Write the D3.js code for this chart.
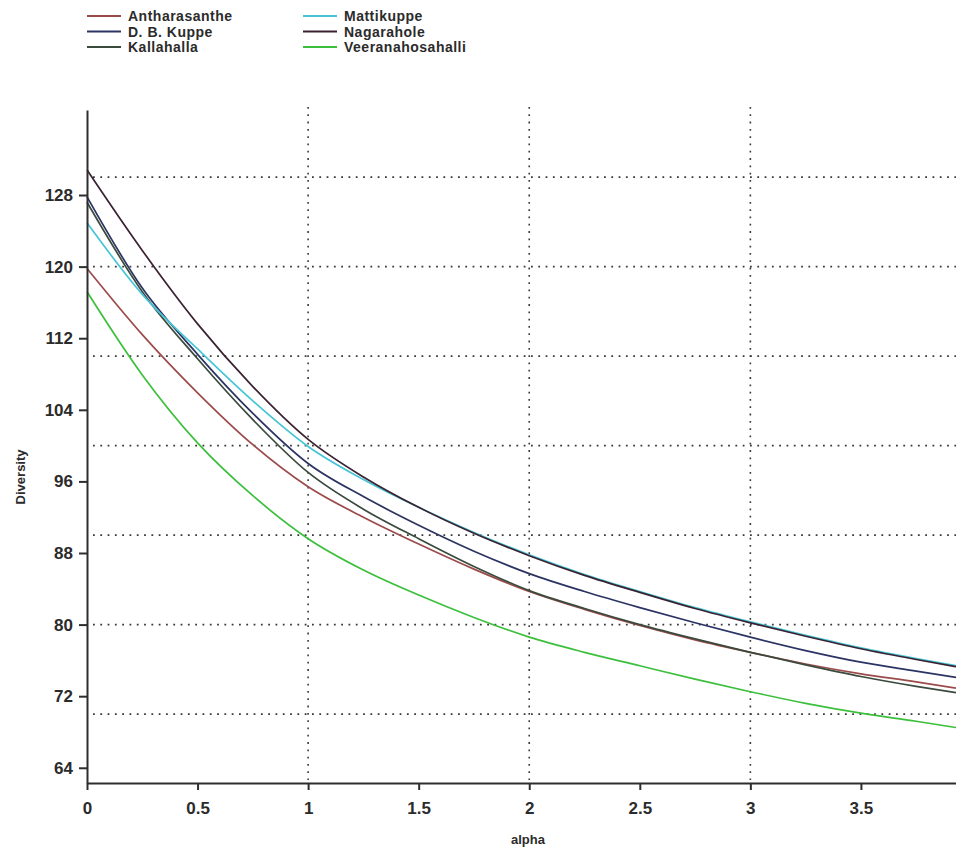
<!DOCTYPE html>
<html>
<head>
<meta charset="utf-8">
<script src="https://cdn.jsdelivr.net/npm/d3@7"></script>
<style>
  body { margin: 0; background: #fff; }
  svg { display: block; font-family: "Liberation Sans", Arial, sans-serif; }
  .axis text { font-size: 17px; font-weight: bold; fill: #2b2b2b; }
  .axis path, .axis line { stroke: #2e2e2e; stroke-width: 2; }
  .grid line { stroke: #3a3a3a; stroke-width: 1.6; stroke-dasharray: 1.8 5.5; }
  .legend text { font-size: 14px; font-weight: bold; fill: #2b2b2b; letter-spacing: 0.5px; }
  .title { font-size: 13px; font-weight: bold; fill: #2b2b2b; }
</style>
</head>
<body>
<div class="chartContainer"></div>
<script>
const alphaValues = [0, 0.25, 0.5, 0.75, 1, 1.25, 1.5, 1.75, 2, 2.25, 2.5, 2.75, 3, 3.25, 3.5, 3.75, 3.93];

//diversity profile of each site
const antharasanthe    = [119.8, 112.4, 105.9, 100.1, 95.4, 92.0, 89.0, 86.2, 83.7, 81.7, 79.9, 78.3, 76.9, 75.6, 74.5, 73.6, 72.9];
const dbKuppe          = [127.8, 117.6, 110.2, 103.6, 98.0, 94.3, 91.1, 88.2, 85.7, 83.7, 81.9, 80.2, 78.6, 77.1, 75.8, 74.8, 74.1];
const kallahalla       = [127.2, 117.2, 109.7, 102.9, 97.0, 92.9, 89.6, 86.5, 83.8, 81.8, 80.0, 78.4, 76.9, 75.5, 74.2, 73.1, 72.4];
const mattikuppe       = [124.9, 116.9, 110.8, 105.0, 99.9, 96.2, 93.1, 90.3, 87.8, 85.6, 83.7, 81.9, 80.3, 78.8, 77.4, 76.2, 75.4];
const nagarahole       = [130.8, 121.8, 113.6, 106.6, 100.7, 96.5, 93.1, 90.2, 87.7, 85.5, 83.6, 81.8, 80.2, 78.7, 77.3, 76.1, 75.3];
const veeranahosahalli = [117.2, 107.9, 100.3, 94.4, 89.6, 86.1, 83.3, 80.8, 78.6, 76.9, 75.4, 73.9, 72.5, 71.2, 70.1, 69.2, 68.5];

const siteNames = ['Antharasanthe', 'D. B. Kuppe', 'Kallahalla', 'Mattikuppe', 'Nagarahole', 'Veeranahosahalli'];
const siteColors = ['#9c4b4b', '#2b3462', '#3a4a3d', '#46c5d6', '#3a2232', '#3cbf3c'];
const siteValues = [antharasanthe, dbKuppe, kallahalla, mattikuppe, nagarahole, veeranahosahalli];

//ticks and grid lines
const xTicks = [0, 0.5, 1, 1.5, 2, 2.5, 3, 3.5];
const yTicks = [64, 72, 80, 88, 96, 104, 112, 120, 128];
const xGrid = [1, 2, 3];
const yGrid = [70, 80, 90, 100, 110, 120, 130];

//build one row per site for the line generator
function prepareSeries(){
    return siteNames.map((name, i) => ({
        name: name,
        color: siteColors[i],
        points: alphaValues.map((a, j) => ({alpha: a, value: siteValues[i][j]}))
    }));
}

function ready(){
    const series = prepareSeries();

    const width = 956, height = 849;
    const margin = {top: 110, right: 0, bottom: 66, left: 87};
    const chartWidth = width - margin.left - margin.right;
    const chartHeight = height - margin.top - margin.bottom;

    const xScale = d3.scaleLinear()
                    .domain([0, 3.93])
                    .range([0, chartWidth]);

    const yScale = d3.scaleLinear()
                    .domain([62.3, 137.5])
                    .range([chartHeight, 0]);

    const root = d3.select('.chartContainer')
        .append('svg')
        .attr('width', width)
        .attr('height', height);

    const svg = root.append('g')
        .attr('transform', `translate(${margin.left}, ${margin.top})`);

    //dotted grid
    const grid = svg.append('g').attr('class', 'grid');
    grid.selectAll('.hgrid')
        .data(yGrid)
        .enter()
        .append('line')
        .attr('class', 'hgrid')
        .attr('x1', 6)
        .attr('x2', chartWidth)
        .attr('y1', d => yScale(d))
        .attr('y2', d => yScale(d));
    grid.selectAll('.vgrid')
        .data(xGrid)
        .enter()
        .append('line')
        .attr('class', 'vgrid')
        .attr('x1', d => xScale(d))
        .attr('x2', d => xScale(d))
        .attr('y1', -3)
        .attr('y2', chartHeight - 3);

    //curves
    const line = d3.line()
        .x(d => xScale(d.alpha))
        .y(d => yScale(d.value))
        .curve(d3.curveMonotoneX);

    svg.append('g')
        .attr('class', 'lines')
        .selectAll('path')
        .data(series)
        .enter()
        .append('path')
        .attr('d', d => line(d.points))
        .style('fill', 'none')
        .style('stroke', d => d.color)
        .style('stroke-width', 1.7);

    //axes
    const xAxis = d3.axisBottom(xScale)
                    .tickValues(xTicks)
                    .tickFormat(d3.format('~g'))
                    .tickSizeInner(7)
                    .tickSizeOuter(0)
                    .tickPadding(12);

    svg.append('g')
        .attr('class', 'x axis')
        .attr('transform', `translate(0, ${chartHeight})`)
        .call(xAxis);

    const yAxis = d3.axisLeft(yScale)
                    .tickValues(yTicks)
                    .tickSizeInner(8)
                    .tickSizeOuter(0)
                    .tickPadding(6);

    svg.append('g')
        .attr('class', 'y axis')
        .call(yAxis);

    //axis titles
    svg.append('text')
        .attr('class', 'title')
        .attr('x', 441)
        .attr('y', chartHeight + 61)
        .attr('text-anchor', 'middle')
        .text('alpha');

    svg.append('text')
        .attr('class', 'title')
        .attr('transform', `translate(${-62}, ${yScale(96.5)}) rotate(-90)`)
        .attr('text-anchor', 'middle')
        .text('Diversity');

    //legend, two columns of three
    const legend = root.append('g')
        .attr('class', 'legend')
        .selectAll('g')
        .data(series)
        .enter()
        .append('g')
        .attr('transform', (d, i) => `translate(${i < 3 ? 87 : 303}, ${16 + (i % 3) * 15.5})`);

    legend.append('line')
        .attr('x1', 0)
        .attr('x2', 34)
        .style('stroke', d => d.color)
        .style('stroke-width', 2.2);

    legend.append('text')
        .attr('x', 41)
        .attr('dy', '0.36em')
        .text(d => d.name);
}

ready();
</script>
</body>
</html>
